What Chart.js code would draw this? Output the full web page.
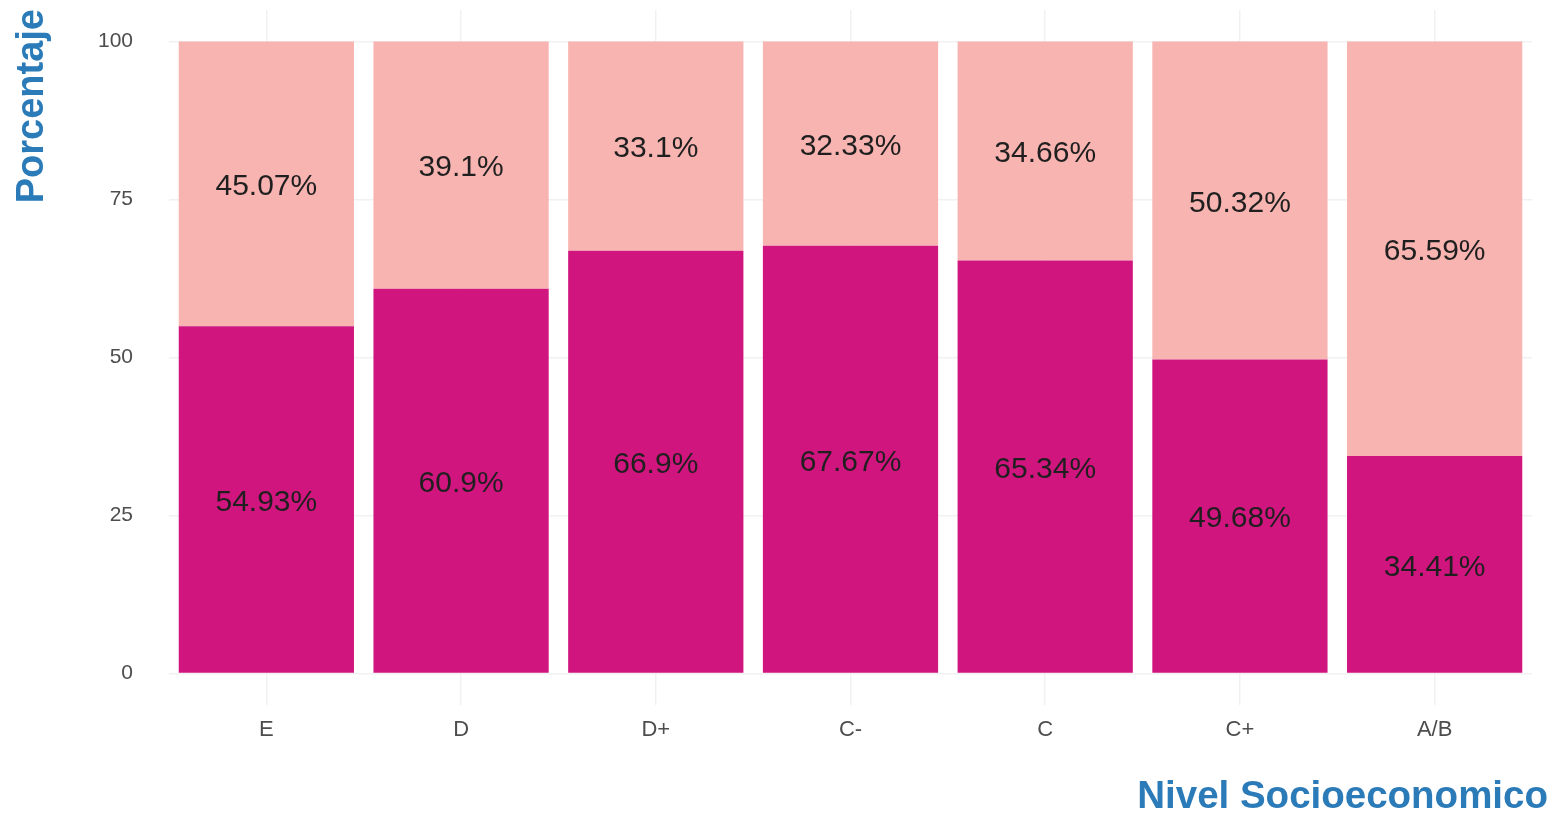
<!DOCTYPE html>
<html>
<head>
<meta charset="utf-8">
<script src="https://cdn.jsdelivr.net/npm/chart.js@4.4.1/dist/chart.umd.min.js"></script>
<style>
  html, body { margin: 0; padding: 0; background: #ffffff; }
  #wrap { width: 1552px; height: 818px; position: relative; }
</style>
</head>
<body>
<div id="wrap"><canvas id="c" width="1552" height="818"></canvas></div>
<script>
const categories = ["E", "D", "D+", "C-", "C", "C+", "A/B"];
const bottomValues = [54.93, 60.9, 66.9, 67.67, 65.34, 49.68, 34.41];
const topValues = [45.07, 39.1, 33.1, 32.33, 34.66, 50.32, 65.59];
const yTicks = [0, 25, 50, 75, 100];
const yTitle = "Porcentaje";
const xTitle = "Nivel Socioeconomico";

const FONT = "'Liberation Sans', Arial, Helvetica, sans-serif";
const TITLE_COLOR = "#2B7BB9";

const labelPlugin = {
  id: 'segLabels',
  afterDatasetsDraw(chart) {
    const ctx = chart.ctx;
    ctx.save();
    ctx.font = "30px " + FONT;
    ctx.textAlign = 'center';
    ctx.textBaseline = 'middle';
    ctx.fillStyle = '#1f1f1f';
    chart.data.datasets.forEach((ds, di) => {
      const meta = chart.getDatasetMeta(di);
      meta.data.forEach((el, i) => {
        const v = ds.data[i];
        const y = (el.y + el.base) / 2 + 3;
        ctx.fillText(String(v) + '%', el.x, y);
      });
    });
    ctx.restore();
  }
};

const titlePlugin = {
  id: 'axisTitles',
  afterDraw(chart) {
    const ctx = chart.ctx;
    ctx.save();
    ctx.fillStyle = TITLE_COLOR;
    ctx.font = "bold 38px " + FONT;
    ctx.textBaseline = 'middle';
    ctx.save();
    ctx.translate(33, 9);
    ctx.rotate(-Math.PI / 2);
    ctx.textAlign = 'right';
    ctx.fillText(yTitle, 0, 0);
    ctx.restore();
    ctx.font = "bold 38.5px " + FONT;
    ctx.textAlign = 'right';
    ctx.fillText(xTitle, 1548, 797);
    ctx.restore();
  }
};

new Chart(document.getElementById('c'), {
  type: 'bar',
  data: {
    labels: categories,
    datasets: [
      { label: 'bottom', data: bottomValues, backgroundColor: '#D1157F', borderWidth: 0,
        barPercentage: 0.9, categoryPercentage: 1.0 },
      { label: 'top', data: topValues, backgroundColor: '#F8B4B1', borderWidth: 0,
        barPercentage: 0.9, categoryPercentage: 1.0 }
    ]
  },
  options: {
    responsive: false,
    animation: false,
    devicePixelRatio: 1,
    layout: { padding: { left: 0, right: 20, top: 10, bottom: 0 } },
    plugins: { legend: { display: false }, tooltip: { enabled: false } },
    scales: {
      x: {
        stacked: true,
        offset: true,
        grid: { offset: false, color: '#f1f1f1', lineWidth: 1.5, drawTicks: false },
        border: { display: false },
        ticks: { color: '#4d4d4d', font: { family: FONT, size: 22 }, padding: 12 },
        afterFit(scale) { scale.height = 113; scale.paddingLeft = 0; scale.paddingRight = 0; }
      },
      y: {
        stacked: true,
        min: -5,
        max: 105,
        grid: { color: '#f1f1f1', lineWidth: 1.5, drawTicks: false },
        border: { display: false },
        ticks: { color: '#4d4d4d', font: { family: FONT, size: 21 }, padding: 36 },
        afterBuildTicks(scale) { scale.ticks = yTicks.map(v => ({ value: v })); },
        afterFit(scale) { scale.width = 169; scale.paddingTop = 0; scale.paddingBottom = 0; }
      }
    }
  },
  plugins: [labelPlugin, titlePlugin]
});
</script>
</body>
</html>
